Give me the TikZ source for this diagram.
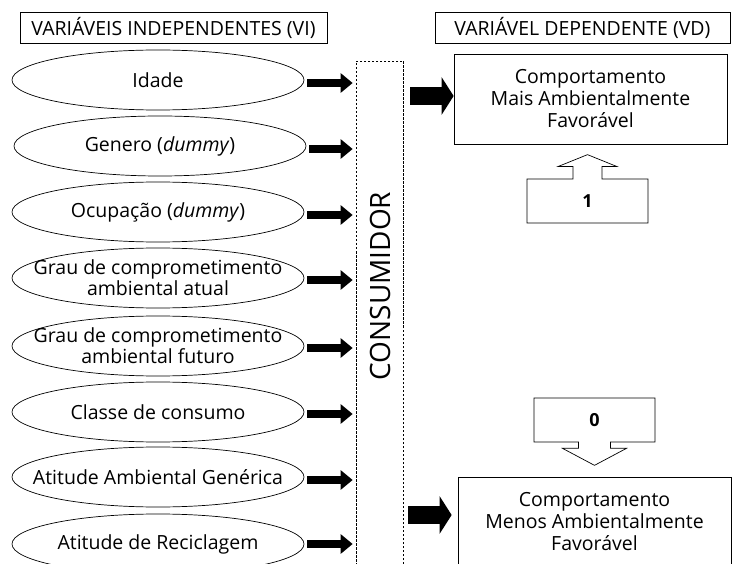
\documentclass[tikz,border=0pt]{standalone}
\usepackage{fontspec}
\setmainfont{Open Sans}
\usetikzlibrary{arrows.meta,shapes.geometric,shapes.arrows,positioning}

\begin{document}
\begin{tikzpicture}[x=1pt,y=-1pt,line width=0.7pt,
  var/.style={ellipse,draw,minimum width=292pt,minimum height=60pt,inner xsep=-25pt,inner ysep=0pt,align=center,font=\fontsize{19.5}{21}\selectfont},
  head/.style={draw,minimum height=31pt,inner sep=0pt,font=\fontsize{19.5}{20}\selectfont},
  vdbox/.style={draw,align=center,minimum width=273pt,minimum height=90pt,inner sep=0pt,font=\fontsize{19.5}{22}\selectfont},
  flag/.style={arrow box,draw,minimum width=121pt,minimum height=44pt,inner sep=0pt,font=\bfseries\fontsize{18}{18}\selectfont,arrow box head indent=0pt},
  small/.style={line width=8pt,-{Triangle[length=12pt,width=19pt]},shorten <=3pt,shorten >=3pt},
  big/.style={line width=18pt,-{Triangle[length=12pt,width=37pt]}}]
  \useasboundingbox (0,0) rectangle (734,564);
  \clip (0,0) rectangle (734,564);
  % headers
  \node[head,minimum width=307pt] (vi) at (173.5,27.5) {VARIÁVEIS INDEPENDENTES (VI)};
  \node[head,minimum width=295pt] (vd) at (582.5,27.5) {VARIÁVEL DEPENDENTE (VD)};
  % independent variables
  \node[var] (e1) at (158,80)  {Idade};
  \node[var] (e2) at (160,146) {Genero (\emph{dummy})};
  \node[var] (e3) at (158,212) {Ocupação (\emph{dummy})};
  \node[var] (e4) at (158,278) {Grau de comprometimento\\ambiental atual};
  \node[var] (e5) at (158,346) {Grau de comprometimento\\ambiental futuro};
  \node[var] (e6) at (158,412) {Classe de consumo};
  \node[var] (e7) at (158,477) {Atitude Ambiental Genérica};
  \node[var] (e8) at (158,544) {Atitude de Reciclagem};
  % consumer
  \node[draw,dashed,dash pattern=on 2.5pt off 1.5pt,minimum width=47pt,minimum height=540pt,inner sep=0pt] (cons) at (379.5,331) {};
  \node[rotate=90,font=\fontsize{28}{30}\selectfont] (lbl) at (380,286) {CONSUMIDOR};
  \draw[small] ([yshift=-3pt]e1.east) -- ([yshift=-3pt]e1.east -| cons.west);
  \draw[small] ([yshift=-3pt]e2.east) -- ([yshift=-3pt]e2.east -| cons.west);
  \draw[small] ([yshift=-3pt]e3.east) -- ([yshift=-3pt]e3.east -| cons.west);
  \draw[small] ([yshift=-2pt]e4.east) -- ([yshift=-2pt]e4.east -| cons.west);
  \draw[small] ([yshift=-2pt]e5.east) -- ([yshift=-2pt]e5.east -| cons.west);
  \draw[small] ([yshift=-2pt]e6.east) -- ([yshift=-2pt]e6.east -| cons.west);
  \draw[small] ([yshift=-3pt]e7.east) -- ([yshift=-3pt]e7.east -| cons.west);
  \draw[small] (e8.east) -- (e8.east -| cons.west);
  % dependent variable
  \node[vdbox] (mais) at (590.5,99) {Comportamento\\Mais Ambientalmente\\Favorável};
  \node[vdbox] (menos) at (594.5,522) {Comportamento\\Menos Ambientalmente\\Favorável};
  \draw[big,shorten <=7pt] ([yshift=3pt]cons.east |- mais.west) -- ([yshift=3pt]mais.west);
  \draw[big,shorten <=5pt,shorten >=6pt] ([yshift=7pt]cons.east |- menos.west) -- ([yshift=7pt]menos.west);
  \node[flag,arrow box arrows={north:24pt},arrow box shaft width=29pt,arrow box head extend=15pt,arrow box tip angle=136] (um) at (587.5,201) {1};
  \node[flag,arrow box arrows={south:23pt},arrow box shaft width=32pt,arrow box head extend=16pt,arrow box tip angle=124] (zero) at (594.5,420) {0};
\end{tikzpicture}
\end{document}
